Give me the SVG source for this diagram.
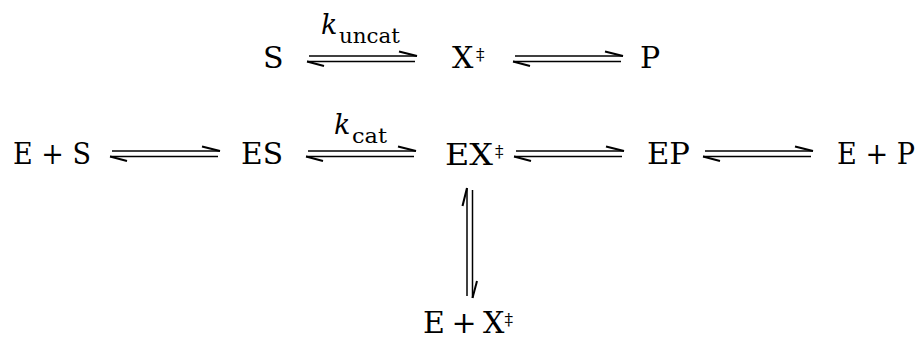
<svg xmlns="http://www.w3.org/2000/svg" xmlns:xlink="http://www.w3.org/1999/xlink" width="922" height="339" viewBox="0 0 922 339">
<style>
  text { font-family: "DejaVu Serif", serif; fill: #000; }
  .t { font-size: 30px; }
  .sup { font-size: 17px; }
  .k { font-style: italic; font-size: 27px; }
  .sub { font-size: 20px; }
  .ln { stroke: #000; stroke-width: 1.5; fill: none; }
  .barb { stroke: #000; stroke-width: 2; fill: none; stroke-linecap: butt; }
</style>
<defs>
  <g id="harp">
    <line class="ln" x1="2" y1="0" x2="110" y2="0"/>
    <line class="barb" x1="110" y1="0" x2="92" y2="-4.5"/>
    <line class="ln" x1="0" y1="5.5" x2="108" y2="5.5"/>
    <line class="barb" x1="0" y1="5.5" x2="17" y2="10"/>
  </g>
</defs>
<rect width="922" height="339" fill="#fff"/>

<g id="connectors">
  <use xlink:href="#harp" transform="translate(307,56)"/>
  <use xlink:href="#harp" transform="translate(513,56)"/>
  <use xlink:href="#harp" transform="translate(110,151)"/>
  <use xlink:href="#harp" transform="translate(306,151)"/>
  <use xlink:href="#harp" transform="translate(514,151)"/>
  <use xlink:href="#harp" transform="translate(703,151)"/>
  <use xlink:href="#harp" transform="translate(467,298) rotate(-90)"/>
  <g id="label-kuncat">
    <text class="k" x="321" y="34">k</text>
    <text class="sub" x="339" y="43" textLength="61" lengthAdjust="spacingAndGlyphs">uncat</text>
  </g>
  <g id="label-kcat">
    <text class="k" x="334" y="134">k</text>
    <text class="sub" x="352" y="143" textLength="35" lengthAdjust="spacingAndGlyphs">cat</text>
  </g>
</g>

<g id="node-S"><text class="t" x="263" y="68">S</text></g>
<g id="node-X"><text class="t" x="452" y="68">X</text><text class="sup" x="476" y="60">‡</text></g>
<g id="node-P"><text class="t" x="640" y="68">P</text></g>

<g id="node-E-plus-S"><text class="t" x="13" y="164" textLength="78" lengthAdjust="spacingAndGlyphs">E + S</text></g>
<g id="node-ES"><text class="t" x="241" y="164" textLength="42" lengthAdjust="spacingAndGlyphs">ES</text></g>
<g id="node-EX"><text class="t" x="445" y="165" textLength="48" lengthAdjust="spacingAndGlyphs">EX</text><text class="sup" x="495" y="157">‡</text></g>
<g id="node-EP"><text class="t" x="647" y="164" textLength="43" lengthAdjust="spacingAndGlyphs">EP</text></g>
<g id="node-E-plus-P"><text class="t" x="837" y="164" textLength="78" lengthAdjust="spacingAndGlyphs">E + P</text></g>

<g id="node-E-plus-X"><text class="t" x="423" y="333" style="word-spacing:-3px">E + X<tspan class="sup" dy="-8">‡</tspan></text></g>
</svg>
